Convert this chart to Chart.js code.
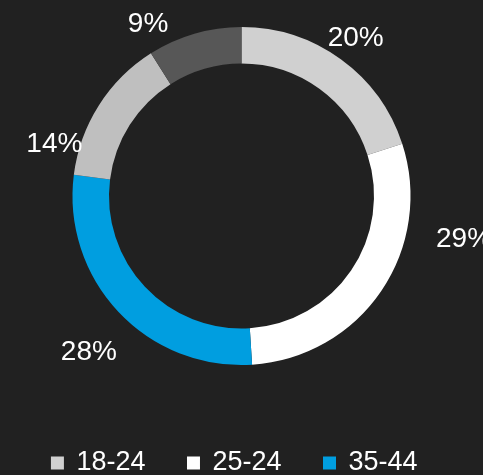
<!DOCTYPE html>
<html>
<head>
<meta charset="utf-8">
<script src="https://cdn.jsdelivr.net/npm/chart.js@4"></script>
<style>
html, body { margin: 0; padding: 0; background: #212121; overflow: hidden; }
#wrap { position: relative; width: 483px; height: 514px; }
</style>
</head>
<body>
<div id="wrap"><canvas id="c"></canvas></div>
<script>
// ---- data ----
const categories = ['18-24', '25-24', '35-44', '45-54', '55+'];
const shares = [20, 29, 28, 14, 9];
const segmentColors = ['#d0d0d0', '#ffffff', '#009ee0', '#bfbfbf', '#575757'];

// ---- label placement (relative to each arc) ----
const labelAngleOffsetDeg = [0, -23.3, -2.5, -16.9, -12.3];
const labelRadiusFactor = [1.150, 1.341, 1.293, 1.149, 1.159];

const FONT = '"Liberation Sans", Arial, sans-serif';

const pctLabels = {
  id: 'pctLabels',
  afterDatasetsDraw(chart) {
    const ctx = chart.ctx;
    const meta = chart.getDatasetMeta(0);
    ctx.save();
    ctx.font = '28px ' + FONT;
    ctx.fillStyle = '#ffffff';
    ctx.textAlign = 'center';
    ctx.textBaseline = 'middle';
    meta.data.forEach((arc, i) => {
      const p = arc.getProps(['x', 'y', 'startAngle', 'endAngle', 'outerRadius'], true);
      const a = (p.startAngle + p.endAngle) / 2 + labelAngleOffsetDeg[i] * Math.PI / 180;
      const r = p.outerRadius * labelRadiusFactor[i];
      ctx.fillText(shares[i] + '%', p.x + r * Math.cos(a), p.y + r * Math.sin(a));
    });
    ctx.restore();
  }
};

const legendNudge = {
  id: 'legendNudge',
  afterLayout(chart) {
    const lg = chart.legend;
    if (!lg) return;
    lg.top += 42; lg.bottom += 42;
    lg.left -= 6.75; lg.right -= 6.75;
  }
};

new Chart(document.getElementById('c'), {
  type: 'doughnut',
  data: {
    labels: categories,
    datasets: [{
      data: shares,
      backgroundColor: segmentColors,
      borderWidth: 0,
      hoverOffset: 0
    }]
  },
  options: {
    responsive: true,
    maintainAspectRatio: false,
    animation: false,
    cutout: '78.4%',
    layout: { padding: { top: 27, bottom: 0, left: 0, right: 0 } },
    plugins: {
      legend: {
        position: 'bottom',
        labels: {
          color: '#ffffff',
          font: { family: FONT, size: 27 },
          boxWidth: 11,
          boxHeight: 11,
          padding: 42.5,
          generateLabels(chart) {
            const items = Chart.overrides.doughnut.plugins.legend.labels.generateLabels(chart);
            items.forEach(it => {
              it.lineWidth = 2;
              it.strokeStyle = it.fillStyle;
              it.lineJoin = 'miter';
            });
            return items;
          }
        }
      },
      tooltip: { enabled: false }
    }
  },
  plugins: [pctLabels, legendNudge]
});
</script>
</body>
</html>
